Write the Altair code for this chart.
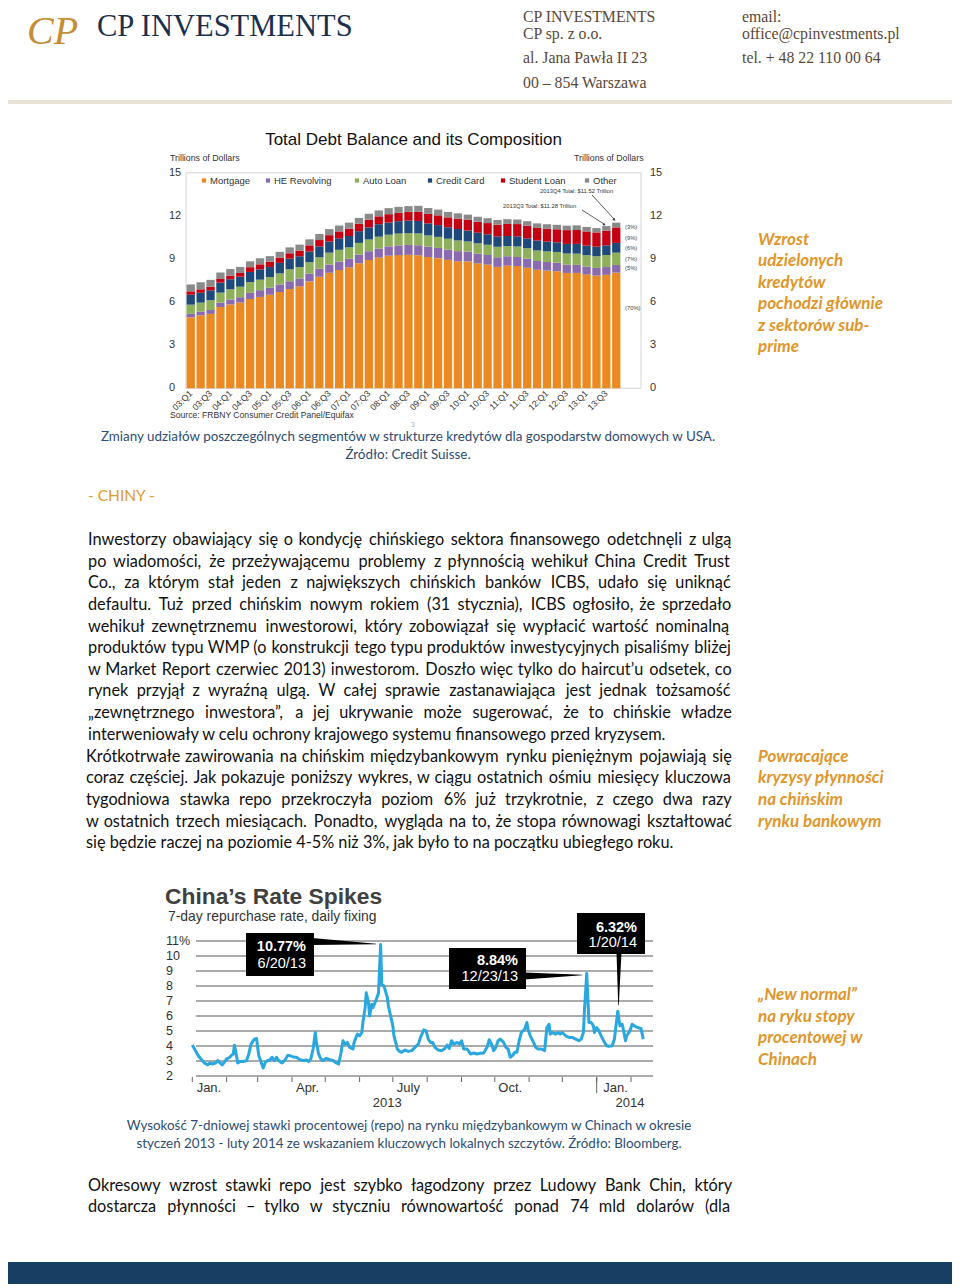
import altair as alt
import pandas as pd

# ---------------------------------------------------------------- data
quarters = ["03:Q1", "03:Q2", "03:Q3", "03:Q4", "04:Q1", "04:Q2", "04:Q3", "04:Q4",
            "05:Q1", "05:Q2", "05:Q3", "05:Q4", "06:Q1", "06:Q2", "06:Q3", "06:Q4",
            "07:Q1", "07:Q2", "07:Q3", "07:Q4", "08:Q1", "08:Q2", "08:Q3", "08:Q4",
            "09:Q1", "09:Q2", "09:Q3", "09:Q4", "10:Q1", "10:Q2", "10:Q3", "10:Q4",
            "11:Q1", "11:Q2", "11:Q3", "11:Q4", "12:Q1", "12:Q2", "12:Q3", "12:Q4",
            "13:Q1", "13:Q2", "13:Q3", "13:Q4"]
quarter_labels = ["03:Q1", "03:Q3", "04:Q1", "04:Q3", "05:Q1", "05:Q3", "06:Q1", "06:Q3",
                  "07:Q1", "07:Q3", "08:Q1", "08:Q3", "09:Q1", "09:Q3", "10:Q1", "10:Q3",
                  "11:Q1", "11:Q3", "12:Q1", "12:Q3", "13:Q1", "13:Q3"]
mortgage = [4.94, 5.08, 5.18, 5.66, 5.84, 5.97, 6.21, 6.36, 6.51, 6.70, 6.91, 7.10,
            7.44, 7.76, 8.04, 8.23, 8.42, 8.71, 8.93, 9.10, 9.23, 9.27, 9.29, 9.26,
            9.14, 9.06, 8.94, 8.84, 8.83, 8.70, 8.61, 8.45, 8.54, 8.51, 8.39, 8.25,
            8.19, 8.15, 8.03, 8.03, 7.93, 7.84, 7.90, 8.05]
he_revolving = [0.24, 0.26, 0.27, 0.30, 0.33, 0.37, 0.43, 0.47, 0.50, 0.53, 0.54, 0.55,
                0.55, 0.56, 0.58, 0.59, 0.60, 0.60, 0.61, 0.63, 0.65, 0.68, 0.69, 0.70,
                0.71, 0.71, 0.71, 0.71, 0.68, 0.68, 0.67, 0.67, 0.65, 0.63, 0.63, 0.61,
                0.60, 0.59, 0.58, 0.56, 0.55, 0.54, 0.54, 0.53]
auto_loan = [0.64, 0.62, 0.68, 0.70, 0.72, 0.73, 0.75, 0.73, 0.73, 0.77, 0.83, 0.79,
             0.79, 0.80, 0.82, 0.82, 0.79, 0.81, 0.82, 0.82, 0.81, 0.82, 0.82, 0.82,
             0.79, 0.77, 0.76, 0.74, 0.71, 0.71, 0.71, 0.73, 0.71, 0.73, 0.73, 0.73,
             0.74, 0.75, 0.77, 0.78, 0.79, 0.81, 0.84, 0.86]
credit_card = [0.69, 0.69, 0.69, 0.70, 0.70, 0.70, 0.71, 0.72, 0.71, 0.73, 0.74, 0.75,
               0.74, 0.76, 0.77, 0.80, 0.79, 0.82, 0.84, 0.87, 0.85, 0.86, 0.87, 0.87,
               0.84, 0.82, 0.80, 0.80, 0.76, 0.74, 0.73, 0.73, 0.70, 0.71, 0.69, 0.70,
               0.68, 0.67, 0.67, 0.68, 0.66, 0.67, 0.67, 0.68]
student_loan = [0.24, 0.24, 0.25, 0.25, 0.26, 0.26, 0.33, 0.35, 0.36, 0.37, 0.38, 0.39,
                0.43, 0.44, 0.45, 0.48, 0.51, 0.51, 0.53, 0.55, 0.58, 0.58, 0.61, 0.64,
                0.66, 0.68, 0.69, 0.72, 0.76, 0.76, 0.78, 0.81, 0.84, 0.85, 0.87, 0.87,
                0.90, 0.91, 0.96, 0.97, 0.99, 0.99, 1.03, 1.08]
other = [0.48, 0.49, 0.48, 0.45, 0.45, 0.42, 0.41, 0.42, 0.39, 0.40, 0.41, 0.42,
         0.42, 0.42, 0.42, 0.41, 0.42, 0.41, 0.42, 0.41, 0.42, 0.42, 0.40, 0.41,
         0.41, 0.40, 0.38, 0.37, 0.35, 0.35, 0.34, 0.33, 0.33, 0.32, 0.32, 0.32,
         0.31, 0.31, 0.31, 0.32, 0.31, 0.30, 0.31, 0.33]
segments = ["Mortgage", "HE Revolving", "Auto Loan", "Credit Card", "Student Loan", "Other"]
segment_colors = ["#eb8a23", "#8a6bb0", "#8fb05a", "#1e4a7b", "#c40012", "#8a8a8a"]
debt_ticks = [0, 3, 6, 9, 12, 15]
share_labels = ["(3%)", "(9%)", "(6%)", "(7%)", "(5%)", "(70%)"]

repo_dates = [
    "2013-01-01", "2013-01-03", "2013-01-06", "2013-01-08", "2013-01-10", "2013-01-12", "2013-01-15",
    "2013-01-17", "2013-01-19", "2013-01-22", "2013-01-24", "2013-01-26", "2013-01-28", "2013-01-30",
    "2013-02-01", "2013-02-04", "2013-02-05", "2013-02-07", "2013-02-08", "2013-02-09", "2013-02-11",
    "2013-02-13", "2013-02-16", "2013-02-19", "2013-02-21", "2013-02-23", "2013-02-26", "2013-02-28",
    "2013-03-01", "2013-03-02", "2013-03-05", "2013-03-06", "2013-03-08", "2013-03-10", "2013-03-12",
    "2013-03-14", "2013-03-16", "2013-03-18", "2013-03-20", "2013-03-23", "2013-03-26", "2013-03-28",
    "2013-03-30",
    "2013-04-02", "2013-04-05", "2013-04-08", "2013-04-11", "2013-04-14", "2013-04-16", "2013-04-18",
    "2013-04-20", "2013-04-22", "2013-04-23", "2013-04-25", "2013-04-27", "2013-04-29",
    "2013-05-02", "2013-05-05", "2013-05-08", "2013-05-11", "2013-05-13", "2013-05-15", "2013-05-17",
    "2013-05-19", "2013-05-21", "2013-05-23", "2013-05-26", "2013-05-27", "2013-05-30",
    "2013-06-01", "2013-06-03", "2013-06-04", "2013-06-06", "2013-06-07", "2013-06-09", "2013-06-10",
    "2013-06-12", "2013-06-13", "2013-06-15", "2013-06-18", "2013-06-20", "2013-06-21", "2013-06-23",
    "2013-06-26", "2013-06-27", "2013-06-29",
    "2013-07-01", "2013-07-02", "2013-07-04", "2013-07-05", "2013-07-07", "2013-07-09", "2013-07-12",
    "2013-07-15", "2013-07-18", "2013-07-21", "2013-07-24", "2013-07-26", "2013-07-29", "2013-07-31",
    "2013-08-02", "2013-08-04", "2013-08-06", "2013-08-08", "2013-08-11", "2013-08-14", "2013-08-17",
    "2013-08-19", "2013-08-21", "2013-08-23", "2013-08-25", "2013-08-28", "2013-08-30",
    "2013-09-01", "2013-09-03", "2013-09-06", "2013-09-09", "2013-09-12", "2013-09-15", "2013-09-18",
    "2013-09-21", "2013-09-24", "2013-09-26", "2013-09-28", "2013-09-30",
    "2013-10-02", "2013-10-04", "2013-10-06", "2013-10-09", "2013-10-11", "2013-10-13", "2013-10-15",
    "2013-10-17", "2013-10-19", "2013-10-21", "2013-10-23", "2013-10-25", "2013-10-28", "2013-10-30",
    "2013-10-31",
    "2013-11-02", "2013-11-05", "2013-11-07", "2013-11-09", "2013-11-12", "2013-11-15", "2013-11-17",
    "2013-11-19", "2013-11-20", "2013-11-22", "2013-11-25", "2013-11-27", "2013-11-29",
    "2013-12-01", "2013-12-04", "2013-12-07", "2013-12-10", "2013-12-13", "2013-12-16", "2013-12-18",
    "2013-12-20", "2013-12-21", "2013-12-23", "2013-12-25", "2013-12-27", "2013-12-29", "2013-12-30",
    "2014-01-01", "2014-01-03", "2014-01-05", "2014-01-08", "2014-01-10", "2014-01-12", "2014-01-15",
    "2014-01-17", "2014-01-20", "2014-01-22", "2014-01-24", "2014-01-25", "2014-01-27", "2014-01-28",
    "2014-01-31",
    "2014-02-02", "2014-02-04", "2014-02-07", "2014-02-10", "2014-02-12"]
repo_rate = [
    4.06, 3.80, 3.40, 3.20, 3.03, 2.87, 2.74, 2.87, 2.80, 2.87, 3.03, 2.87, 2.74, 2.92,
    3.14, 3.25, 3.36, 3.47, 4.05, 3.70, 2.87, 2.96, 2.96, 3.03, 3.47, 4.13, 4.46, 4.50,
    3.90, 3.36, 2.74, 2.54, 2.92, 3.03, 3.07, 3.25, 3.03, 3.25, 3.03, 2.87, 3.09, 3.36, 3.36,
    3.27, 3.25, 3.09, 3.03, 3.07, 2.96, 3.14, 3.80, 4.90, 4.24, 3.47, 3.14, 3.03,
    3.18, 3.09, 3.03, 2.87, 2.80, 3.47, 4.35, 4.13, 4.24, 3.91, 3.80, 4.24, 4.79,
    4.68, 4.90, 5.57, 6.56, 7.55, 6.90, 6.00, 6.78, 6.56, 6.90, 7.50, 10.77, 8.10, 8.00, 7.25, 6.67, 6.00,
    5.34, 4.68, 4.13, 3.80, 3.64, 3.58, 3.73, 3.64, 3.69, 3.91, 4.13, 4.57, 5.08, 5.01,
    4.46, 4.24, 4.24, 3.91, 3.73, 3.69, 3.84, 4.06, 3.84, 4.35, 4.13, 4.24, 4.13,
    4.35, 3.80, 3.80, 3.47, 3.53, 3.47, 3.51, 3.53, 3.91, 4.42, 4.13, 3.69,
    3.91, 4.35, 4.46, 4.24, 3.91, 3.80, 3.25, 3.36, 3.58, 3.58, 4.35, 4.90, 5.12, 5.57, 5.12,
    4.68, 4.24, 3.91, 3.80, 3.80, 3.69, 5.23, 5.45, 4.79, 4.90, 4.79, 4.90, 4.79,
    4.90, 4.68, 4.57, 4.57, 4.46, 4.35, 4.46, 4.90, 6.45, 8.84, 5.57, 5.57, 5.34, 4.90,
    5.23, 5.01, 4.68, 4.24, 4.02, 3.98, 4.02, 4.46, 6.32, 5.34, 5.45, 5.12, 4.35, 4.68, 5.01,
    5.45, 5.34, 5.23, 5.17, 4.46]
assert len(repo_dates) == len(repo_rate)
rate_ticks = [11, 10, 9, 8, 7, 6, 5, 4, 3, 2]
rate_tick_labels = ["11%", "10", "9", "8", "7", "6", "5", "4", "3", "2"]
month_starts = ["2013-01-01", "2013-02-01", "2013-03-01", "2013-04-01", "2013-05-01", "2013-06-01",
                "2013-07-01", "2013-08-01", "2013-09-01", "2013-10-01", "2013-11-01", "2013-12-01",
                "2014-01-01", "2014-02-01"]
month_label_dates = ["2013-01-16", "2013-04-15", "2013-07-15", "2013-10-15", "2014-01-18"]
month_labels = ["Jan.", "Apr.", "July", "Oct.", "Jan."]
year_label_dates = ["2013-06-26", "2014-01-31"]
year_labels = ["2013", "2014"]
callouts = [("10.77%", "6/20/13"), ("8.84%", "12/23/13"), ("6.32%", "1/20/14")]

# ---------------------------------------------------------------- layout helpers
W, H = 944, 1280
M = 8


def X(v):
    return v - M


def Y(v):
    return v - M


ONE = alt.Data(values=[{"k": 1}])
layers = []

BODY = "Lato"
SANS = "Liberation Sans"
SERIF = "Liberation Serif"
BODY_SIZE = 16.3


def text(s, x, y, size=BODY_SIZE, color="#111111", font=BODY, weight="normal", style="normal",
         align="left", baseline="middle", angle=None):
    kw = dict(text=s, fontSize=size, color=color, font=font, fontWeight=weight,
              fontStyle=style, align=align, baseline=baseline)
    if angle is not None:
        kw["angle"] = angle
    layers.append(alt.Chart(ONE).mark_text(**kw).encode(x=alt.value(X(x)), y=alt.value(Y(y))))


def rect(x1, x2, y1, y2, fill, opacity=1.0, stroke=None, sw=0):
    kw = dict(color=fill, opacity=opacity)
    if stroke:
        kw = dict(fillOpacity=0, stroke=stroke, strokeWidth=sw)
    layers.append(alt.Chart(ONE).mark_rect(**kw).encode(
        x=alt.value(X(x1)), x2=alt.value(X(x2)), y=alt.value(Y(y1)), y2=alt.value(Y(y2))))


def seg(x1, y1, x2, y2, color, sw):
    layers.append(alt.Chart(ONE).mark_rule(color=color, strokeWidth=sw).encode(
        x=alt.value(X(x1)), x2=alt.value(X(x2)), y=alt.value(Y(y1)), y2=alt.value(Y(y2))))


def wedge(pts):
    df = pd.DataFrame([{"i": i, "px": X(a), "py": Y(b), "w": w} for i, (a, b, w) in enumerate(pts)])
    layers.append(alt.Chart(df).mark_trail(color="#000000").encode(
        x=alt.X("px:Q", scale=None), y=alt.Y("py:Q", scale=None),
        size=alt.Size("w:Q", scale=None, legend=None), order=alt.Order("i:Q")))


# approximate glyph advance widths (em) for justified body text
CW = {" ": 0.19, "a": 0.50, "b": 0.56, "c": 0.46, "d": 0.56, "e": 0.52, "f": 0.32, "g": 0.50,
      "h": 0.56, "i": 0.24, "j": 0.24, "k": 0.49, "l": 0.24, "m": 0.84, "n": 0.56, "o": 0.56,
      "p": 0.56, "q": 0.56, "r": 0.35, "s": 0.42, "t": 0.34, "u": 0.56, "v": 0.49, "w": 0.75,
      "x": 0.48, "y": 0.49, "z": 0.44, "ą": 0.50, "ć": 0.46, "ę": 0.52, "ł": 0.26, "ń": 0.56,
      "ó": 0.56, "ś": 0.42, "ź": 0.44, "ż": 0.44, "I": 0.28, "C": 0.66, "W": 1.00, "M": 0.90,
      "P": 0.60, "B": 0.62, "S": 0.54, "K": 0.62, "N": 0.76, "R": 0.62, "T": 0.58, "Z": 0.58,
      "D": 0.74, "J": 0.38, "L": 0.50, "O": 0.80, "F": 0.54, "G": 0.72, "A": 0.68, "E": 0.56,
      "H": 0.74, "U": 0.72, "V": 0.67, "Y": 0.62, "X": 0.62, "Ł": 0.52,
      ".": 0.22, ",": 0.22, "(": 0.30, ")": 0.30, "-": 0.32, "–": 0.50, "%": 0.80, "’": 0.20,
      "„": 0.35, "”": 0.35, ":": 0.22}


def em(s):
    return sum(CW.get(c, 0.56) for c in s)


CAL_LINE = "Inwestorzy obawiający się o kondycję chińskiego sektora finansowego odetchnęli z ulgą"
K = (592.0 / 15.5) / em(CAL_LINE)


def justified(line, x0, x1, y, size=BODY_SIZE):
    words = line.split(" ")
    widths = [em(w) * K * size for w in words]
    gap = (x1 - x0 - sum(widths)) / (len(words) - 1)
    if gap < em(" ") * K * size * 0.7:
        text(line, x0, y, size=size)
        return
    xs, cur = [], x0
    for wd in widths:
        xs.append(X(cur))
        cur += wd + gap
    df = pd.DataFrame({"w": words, "px": xs})
    layers.append(alt.Chart(df).mark_text(align="left", baseline="middle", fontSize=size,
                                          font=BODY, color="#111111").encode(
        x=alt.X("px:Q", scale=None), y=alt.value(Y(y)), text="w:N"))


# ---------------------------------------------------------------- header
text("CP", 27, 44, size=40, color="#c68d37", font=SERIF, style="italic", baseline="alphabetic")
text("CP INVESTMENTS", 97, 35.5, size=30.5, color="#1b2f4e", font=SERIF, baseline="alphabetic")
hdr = "#5a4838"
text("CP INVESTMENTS", 523, 17, size=15.8, color=hdr, font=SERIF)
text("CP sp. z o.o.", 523, 34, size=15.8, color=hdr, font=SERIF)
text("al. Jana Pawła II 23", 523, 58, size=15.8, color=hdr, font=SERIF)
text("00 – 854 Warszawa", 523, 83, size=15.8, color=hdr, font=SERIF)
text("email:", 742, 17, size=15.8, color=hdr, font=SERIF)
text("office@cpinvestments.pl", 742, 34, size=15.8, color=hdr, font=SERIF)
text("tel. + 48 22 110 00 64", 742, 58, size=15.8, color=hdr, font=SERIF)
rect(8, 952, 100, 104, "#e9e3d7")

# ---------------------------------------------------------------- chart 1: stacked bars
xb = alt.Scale(domain=quarters, range=[X(186), X(621)], paddingInner=0.16, paddingOuter=0.06)
yb = alt.Scale(domain=[0, 15], range=[Y(388.3), Y(172.8)], nice=False, zero=True)

rect(186, 641, 172.8, 388.3, None, stroke="#d4d4d4", sw=1)

series = [mortgage, he_revolving, auto_loan, credit_card, student_loan, other]
debt_rows = []
for si, (name, vals) in enumerate(zip(segments, series)):
    for q, v in zip(quarters, vals):
        debt_rows.append({"quarter": q, "segment": name, "idx": si, "value": v})
debt_df = pd.DataFrame(debt_rows)

layers.append(alt.Chart(debt_df).mark_bar().encode(
    x=alt.X("quarter:N", scale=xb, axis=None, sort=quarters),
    y=alt.Y("value:Q", scale=yb, axis=None, stack="zero"),
    color=alt.Color("segment:N", scale=alt.Scale(domain=segments, range=segment_colors), legend=None),
    order=alt.Order("idx:Q", sort="ascending")))

qlab = pd.DataFrame({"q": quarter_labels})
layers.append(alt.Chart(qlab).mark_text(angle=315, align="right", baseline="middle",
                                        fontSize=8.8, font=SANS, color="#333333").encode(
    x=alt.X("q:N", scale=xb, axis=None), y=alt.value(Y(392)), text="q:N"))

dt = pd.DataFrame({"t": debt_ticks})
for xx in (169, 650):
    layers.append(alt.Chart(dt).mark_text(align="left", baseline="middle", fontSize=11,
                                          font=SANS, color="#333333").encode(
        x=alt.value(X(xx)), y=alt.Y("t:Q", scale=yb, axis=None), text="t:Q"))

text("Total Debt Balance and its Composition", 413.5, 140, size=17, color="#111111", font=SANS,
     align="center")
text("Trillions of Dollars", 170, 158, size=8.8, color="#333333", font=SANS)
text("Trillions of Dollars", 574, 158, size=8.8, color="#333333", font=SANS)

legend_sq_x = [204, 268, 357, 430, 503, 587]
legend_tx_x = [210, 274, 363, 436, 509, 593]
for name, col, sx, tx in zip(segments, segment_colors, legend_sq_x, legend_tx_x):
    layers.append(alt.Chart(ONE).mark_square(color=col, size=18, opacity=1).encode(
        x=alt.value(X(sx)), y=alt.value(Y(180.5))))
    text(name, tx, 180.5, size=9.5, color="#333333", font=SANS)

text("2013Q4 Total: $11.52 Trillion", 540, 191, size=5.8, color="#333333", font=SANS)
text("2013Q3 Total: $11.28 Trillion", 503, 206, size=5.8, color="#333333", font=SANS)
seg(592, 195, 614, 219, "#333333", 0.8)
seg(582, 210, 604, 224, "#333333", 0.8)
layers.append(alt.Chart(ONE).mark_point(shape="triangle", angle=138, filled=True, size=10,
                                        color="#333333", opacity=1).encode(
    x=alt.value(X(614)), y=alt.value(Y(219.5))))
layers.append(alt.Chart(ONE).mark_point(shape="triangle", angle=122, filled=True, size=10,
                                        color="#333333", opacity=1).encode(
    x=alt.value(X(604)), y=alt.value(Y(224.5))))
share_y = [227, 238, 248, 259, 268, 308]
for s, yy in zip(share_labels, share_y):
    text(s, 625, yy, size=5.8, color="#444444", font=SANS)

text("Source: FRBNY Consumer Credit Panel/Equifax", 170, 415, size=8.6, color="#333333", font=SANS)
text("3", 413, 425, size=7, color="#b0b0b0", font=SANS, align="center")

cap = "#2e4d72"
text("Zmiany udziałów poszczególnych segmentów w strukturze kredytów dla gospodarstw domowych w USA.",
     408, 437, size=13.4, color=cap, align="center")
text("Źródło: Credit Suisse.", 408, 455, size=13.4, color=cap, align="center")

# ---------------------------------------------------------------- text body
orange = "#e0962a"
text("- CHINY -", 88, 496, size=15.5, color="#e39a2c")

body1 = [
    "Inwestorzy obawiający się o kondycję chińskiego sektora finansowego odetchnęli z ulgą",
    "po wiadomości, że przeżywającemu problemy z płynnością wehikuł China Credit Trust",
    "Co., za którym stał jeden z największych chińskich banków ICBS, udało się uniknąć",
    "defaultu. Tuż przed chińskim nowym rokiem (31 stycznia), ICBS ogłosiło, że sprzedało",
    "wehikuł zewnętrznemu inwestorowi, który zobowiązał się wypłacić wartość nominalną",
    "produktów typu WMP (o konstrukcji tego typu produktów inwestycyjnych pisaliśmy bliżej",
    "w Market Report czerwiec 2013) inwestorom. Doszło więc tylko do haircut’u odsetek, co",
    "rynek przyjął z wyraźną ulgą. W całej sprawie zastanawiająca jest jednak tożsamość",
    "„zewnętrznego inwestora”, a jej ukrywanie może sugerować, że to chińskie władze",
    "interweniowały w celu ochrony krajowego systemu finansowego przed kryzysem.",
]
body1_y = [540, 562, 583, 605, 627, 648, 670, 691, 713, 735]
for i, (s, yy) in enumerate(zip(body1, body1_y)):
    if i < len(body1) - 1:
        justified(s, 88, 732, yy)
    else:
        text(s, 88, yy)

body2 = [
    "Krótkotrwałe zawirowania na chińskim międzybankowym rynku pieniężnym pojawiają się",
    "coraz częściej. Jak pokazuje poniższy wykres, w ciągu ostatnich ośmiu miesięcy kluczowa",
    "tygodniowa stawka repo przekroczyła poziom 6% już trzykrotnie, z czego dwa razy",
    "w ostatnich trzech miesiącach. Ponadto, wygląda na to, że stopa równowagi kształtować",
    "się będzie raczej na poziomie 4-5% niż 3%, jak było to na początku ubiegłego roku.",
]
body2_y = [757, 778, 800, 822, 843]
for i, (s, yy) in enumerate(zip(body2, body2_y)):
    if i < len(body2) - 1:
        justified(s, 86, 732, yy)
    else:
        text(s, 86, yy)

body3 = [
    "Okresowy wzrost stawki repo jest szybko łagodzony przez Ludowy Bank Chin, który",
    "dostarcza płynności – tylko w styczniu równowartość ponad 74 mld dolarów (dla",
]
for s, yy in zip(body3, [1186, 1207]):
    justified(s, 88, 732, yy)

side1 = ["Wzrost", "udzielonych", "kredytów", "pochodzi głównie", "z sektorów sub-", "prime"]
for s, yy in zip(side1, [240, 261, 283, 304, 326, 347]):
    text(s, 758, yy, size=17, color=orange, weight="bold", style="italic")
side2 = ["Powracające", "kryzysy płynności", "na chińskim", "rynku bankowym"]
for s, yy in zip(side2, [757, 778, 800, 822]):
    text(s, 758, yy, size=17, color=orange, weight="bold", style="italic")
side3 = ["„New normal”", "na ryku stopy", "procentowej w", "Chinach"]
for s, yy in zip(side3, [995, 1017, 1038, 1060]):
    text(s, 758, yy, size=17, color=orange, weight="bold", style="italic")

# ---------------------------------------------------------------- chart 2: repo rate line
xl = alt.Scale(type="utc",
               domain=[alt.DateTime(year=2013, month=1, date=1, utc=True),
                       alt.DateTime(year=2014, month=1, date=1, utc=True)],
               range=[X(192.3), X(596.7)], nice=False)
yl = alt.Scale(domain=[2, 11], range=[Y(1076), Y(941)], nice=False, zero=False)

text("China’s Rate Spikes", 165, 897, size=22.8, color="#404040", font=SANS, weight="bold")
text("7-day repurchase rate, daily fixing", 168, 917, size=13.9, color="#333333", font=SANS)

grid = pd.DataFrame({"v": rate_ticks, "lab": rate_tick_labels})
layers.append(alt.Chart(grid).mark_rule(color="#8f8f8f", strokeWidth=1.3).encode(
    x=alt.value(X(196)), x2=alt.value(X(653)), y=alt.Y("v:Q", scale=yl, axis=None)))
layers.append(alt.Chart(grid).mark_text(align="left", baseline="middle", fontSize=12.5,
                                        font=SANS, color="#333333").encode(
    x=alt.value(X(166)), y=alt.Y("v:Q", scale=yl, axis=None), text="lab:N"))

ms = pd.DataFrame({"d": month_starts})
layers.append(alt.Chart(ms).mark_rule(color="#666666", strokeWidth=1).encode(
    x=alt.X("d:T", scale=xl, axis=None), y=alt.value(Y(1077)), y2=alt.value(Y(1082))))
layers.append(alt.Chart(pd.DataFrame({"d": ["2014-01-01"]})).mark_rule(color="#666666", strokeWidth=1).encode(
    x=alt.X("d:T", scale=xl, axis=None), y=alt.value(Y(1077)), y2=alt.value(Y(1093))))

ml = pd.DataFrame({"d": month_label_dates, "lab": month_labels})
layers.append(alt.Chart(ml).mark_text(align="center", baseline="middle", fontSize=13,
                                      font=SANS, color="#333333").encode(
    x=alt.X("d:T", scale=xl, axis=None), y=alt.value(Y(1088)), text="lab:N"))
yl_df = pd.DataFrame({"d": year_label_dates, "lab": year_labels})
layers.append(alt.Chart(yl_df).mark_text(align="center", baseline="middle", fontSize=13,
                                         font=SANS, color="#333333").encode(
    x=alt.X("d:T", scale=xl, axis=None), y=alt.value(Y(1103)), text="lab:N"))

repo_df = pd.DataFrame({"date": repo_dates, "rate": repo_rate})
layers.append(alt.Chart(repo_df).mark_line(color="#29a7df", strokeWidth=3, strokeJoin="round").encode(
    x=alt.X("date:T", scale=xl, axis=None), y=alt.Y("rate:Q", scale=yl, axis=None)))

# callouts
wedge([(312, 941.5, 7), (376, 944, 0.6)])
wedge([(524, 976, 7), (582, 975, 0.6)])
wedge([(619, 952, 5), (618.5, 1005, 0.6)])
boxes = [(246, 314, 933, 976, 306, 947, 964),
         (449, 526, 948, 989, 518, 961, 977),
         (577, 645, 913, 954, 637, 928, 943)]
for (v, d), (bx1, bx2, by1, by2, tx, ty1, ty2) in zip(callouts, boxes):
    rect(bx1, bx2, by1, by2, "#000000")
    text(v, tx, ty1, size=14.5, color="#ffffff", font=SANS, weight="bold", align="right")
    text(d, tx, ty2, size=14.5, color="#ffffff", font=SANS, align="right")

text("Wysokość 7-dniowej stawki procentowej (repo) na rynku międzybankowym w Chinach w okresie",
     409, 1126, size=13.4, color=cap, align="center")
text("styczeń 2013 - luty 2014 ze wskazaniem kluczowych lokalnych szczytów. Źródło: Bloomberg.",
     409, 1144, size=13.4, color=cap, align="center")

# bottom band
rect(8, 952, 1262, 1284, "#173f63")

chart = alt.layer(*layers).resolve_scale(
    x="independent", y="independent", color="independent", size="independent"
).properties(
    width=W, height=H, autosize=alt.AutoSizeParams(type="none"), padding=0, background="white"
).configure_view(strokeWidth=0)

chart.save("out.html", embed_options={"renderer": "svg", "actions": False})
